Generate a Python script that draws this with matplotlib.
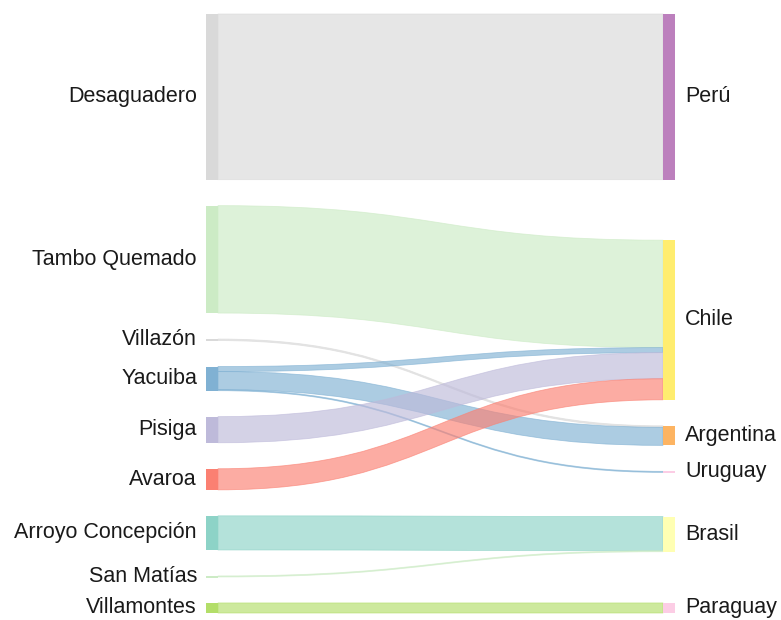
import numpy as np
import matplotlib.pyplot as plt
from matplotlib.path import Path
from matplotlib.patches import PathPatch, Rectangle

# border crossings (left) and destination countries (right)
sources = ["Desaguadero", "Tambo Quemado", "Villazón", "Yacuiba", "Pisiga",
           "Avaroa", "Arroyo Concepción", "San Matías", "Villamontes"]
destinations = ["Perú", "Chile", "Argentina", "Uruguay", "Brasil", "Paraguay"]

link_source = ["Desaguadero", "Tambo Quemado", "Villazón", "Yacuiba", "Yacuiba",
               "Yacuiba", "Pisiga", "Avaroa", "Arroyo Concepción", "San Matías",
               "Villamontes"]
link_target = ["Perú", "Chile", "Argentina", "Chile", "Argentina",
               "Uruguay", "Chile", "Chile", "Brasil", "Brasil",
               "Paraguay"]
link_value = [165, 107, 1.5, 5, 18, 1, 26, 21, 34, 1, 10]

# node colours (Set3-like palette as in the original)
node_colors = {
    "Desaguadero": "#d9d9d9", "Tambo Quemado": "#ccebc5", "Villazón": "#d9d9d9",
    "Yacuiba": "#80b1d3", "Pisiga": "#bebada", "Avaroa": "#fb8072",
    "Arroyo Concepción": "#8dd3c7", "San Matías": "#ccebc5", "Villamontes": "#b3de69",
    "Perú": "#bc80bd", "Chile": "#ffed6f", "Argentina": "#fdb462",
    "Uruguay": "#fccde5", "Brasil": "#ffffb3", "Paraguay": "#fccde5",
}

# layout settings (pixels)
W, H = 781, 620
TOP, BOTTOM = 14, 613
COL_X = [206, 663]
NODE_W = 12
PAD = 26
ITERATIONS = 32


def sankey_layout():
    # classic d3-sankey style layout, node order kept as given
    nodes = {}
    for n in sources:
        nodes[n] = {"name": n, "layer": 0, "src": [], "tgt": []}
    for n in destinations:
        nodes[n] = {"name": n, "layer": 1, "src": [], "tgt": []}
    links = []
    for s, t, v in zip(link_source, link_target, link_value):
        lk = {"source": nodes[s], "target": nodes[t], "value": v}
        nodes[s]["src"].append(lk)
        nodes[t]["tgt"].append(lk)
        links.append(lk)
    for nd in nodes.values():
        nd["value"] = max(sum(l["value"] for l in nd["src"]),
                          sum(l["value"] for l in nd["tgt"]))
    columns = [[nodes[n] for n in sources], [nodes[n] for n in destinations]]

    ky = min((BOTTOM - TOP - (len(c) - 1) * PAD) / sum(nd["value"] for nd in c)
             for c in columns)
    for c in columns:
        for i, nd in enumerate(c):
            nd["y0"] = TOP + i
            nd["y1"] = nd["y0"] + nd["value"] * ky
    for lk in links:
        lk["width"] = lk["value"] * ky

    def center(nd):
        return (nd["y0"] + nd["y1"]) / 2

    def shift(nd, dy):
        nd["y0"] += dy
        nd["y1"] += dy

    def resolve():
        for col in columns:
            y = TOP
            for nd in col:
                if y - nd["y0"] > 0:
                    shift(nd, y - nd["y0"])
                y = nd["y1"] + PAD
            dy = y - PAD - BOTTOM
            if dy > 0:
                shift(col[-1], -dy)
                y = col[-1]["y0"]
                for nd in reversed(col[:-1]):
                    over = nd["y1"] + PAD - y
                    if over > 0:
                        shift(nd, -over)
                    y = nd["y0"]

    def relax(col, key, other, alpha):
        for nd in col:
            if nd[key]:
                tot = sum(l["value"] for l in nd[key])
                y = sum(center(l[other]) * l["value"] for l in nd[key]) / tot
                shift(nd, (y - center(nd)) * alpha)

    resolve()
    alpha = 1.0
    for _ in range(ITERATIONS):
        alpha *= 0.99
        relax(columns[0], "src", "target", alpha)
        resolve()
        relax(columns[1], "tgt", "source", alpha)
        resolve()

    for nd in nodes.values():
        nd["src"].sort(key=lambda l: l["target"]["y0"])
        nd["tgt"].sort(key=lambda l: l["source"]["y0"])
        y = nd["y0"]
        for l in nd["src"]:
            l["sy"] = y
            y += l["width"]
        y = nd["y0"]
        for l in nd["tgt"]:
            l["ty"] = y
            y += l["width"]
    return nodes, links


nodes, links = sankey_layout()

plt.rcParams["font.family"] = ["Liberation Sans", "DejaVu Sans"]
fig = plt.figure(figsize=(W / 100, H / 100), dpi=100)
ax = fig.add_axes([0, 0, 1, 1])
ax.set_xlim(0, W)
ax.set_ylim(H, 0)
ax.axis("off")

xa = COL_X[0] + NODE_W
xb = COL_X[1]
xm = (xa + xb) / 2
for lk in links:
    s0, t0, w = lk["sy"], lk["ty"], lk["width"]
    verts = [(xa, s0), (xm, s0), (xm, t0), (xb, t0),
             (xb, t0 + w), (xm, t0 + w), (xm, s0 + w), (xa, s0 + w), (xa, s0)]
    codes = [Path.MOVETO, Path.CURVE4, Path.CURVE4, Path.CURVE4,
             Path.LINETO, Path.CURVE4, Path.CURVE4, Path.CURVE4, Path.CLOSEPOLY]
    ax.add_patch(PathPatch(Path(verts, codes),
                           facecolor=node_colors[lk["source"]["name"]],
                           edgecolor=node_colors[lk["source"]["name"]],
                           linewidth=0.6, alpha=0.65))

for nd in nodes.values():
    x = COL_X[nd["layer"]]
    h = max(nd["y1"] - nd["y0"], 2)
    ax.add_patch(Rectangle((x, nd["y0"]), NODE_W, h,
                           facecolor=node_colors[nd["name"]], edgecolor="none"))
    yc = (nd["y0"] + nd["y1"]) / 2
    if nd["layer"] == 0:
        ax.text(x - 9, yc, nd["name"], ha="right", va="center",
                fontsize=15.5, color="#1a1a1a")
    else:
        ax.text(x + NODE_W + 10, yc, nd["name"], ha="left", va="center",
                fontsize=15.5, color="#1a1a1a")

fig.savefig("out.png", dpi=100)
